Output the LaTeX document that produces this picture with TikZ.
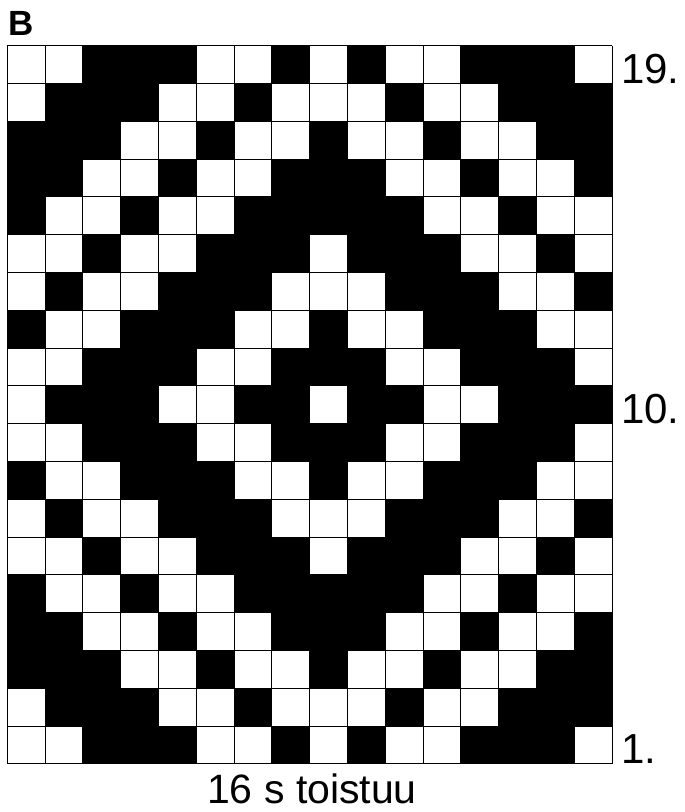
\documentclass[tikz,border=0pt]{standalone}
\usepackage{fontspec}
\setmainfont{Liberation Sans}
\begin{document}
\begin{tikzpicture}[x=1pt,y=-1pt,
  blackcell/.style={fill=black},
  gridline/.style={draw=black,line width=1.1pt},
  rowlabel/.style={anchor=base west,inner sep=0pt,font=\fontsize{42}{44}\selectfont},
  caption/.style={anchor=base,inner sep=0pt,font=\fontsize{41}{44}\selectfont},
  title/.style={anchor=base west,inner sep=0pt,font=\fontsize{35}{38}\selectfont\bfseries}]
\useasboundingbox (0,0) rectangle (685,812);
\def\gx{7.3}
\def\gy{45.7}
\def\cs{37.8}
\foreach \rowvals [count=\r from 0] in {
 {0,0,1,1,1,0,0,1,0,1,0,0,1,1,1,0},
 {0,1,1,1,0,0,1,0,0,0,1,0,0,1,1,1},
 {1,1,1,0,0,1,0,0,1,0,0,1,0,0,1,1},
 {1,1,0,0,1,0,0,1,1,1,0,0,1,0,0,1},
 {1,0,0,1,0,0,1,1,1,1,1,0,0,1,0,0},
 {0,0,1,0,0,1,1,1,0,1,1,1,0,0,1,0},
 {0,1,0,0,1,1,1,0,0,0,1,1,1,0,0,1},
 {1,0,0,1,1,1,0,0,1,0,0,1,1,1,0,0},
 {0,0,1,1,1,0,0,1,1,1,0,0,1,1,1,0},
 {0,1,1,1,0,0,1,1,0,1,1,0,0,1,1,1},
 {0,0,1,1,1,0,0,1,1,1,0,0,1,1,1,0},
 {1,0,0,1,1,1,0,0,1,0,0,1,1,1,0,0},
 {0,1,0,0,1,1,1,0,0,0,1,1,1,0,0,1},
 {0,0,1,0,0,1,1,1,0,1,1,1,0,0,1,0},
 {1,0,0,1,0,0,1,1,1,1,1,0,0,1,0,0},
 {1,1,0,0,1,0,0,1,1,1,0,0,1,0,0,1},
 {1,1,1,0,0,1,0,0,1,0,0,1,0,0,1,1},
 {0,1,1,1,0,0,1,0,0,0,1,0,0,1,1,1},
 {0,0,1,1,1,0,0,1,0,1,0,0,1,1,1,0}} {
  \foreach \v [count=\c from 0] in \rowvals {
    \ifnum\v=1
      \fill[blackcell] ({\gx+\c*\cs-0.3},{\gy+\r*\cs-0.3}) rectangle ++({\cs+0.6},{\cs+0.6});
    \fi
  }
}
\foreach \i in {0,...,16} {
  \draw[gridline] ({\gx+\i*\cs},\gy) -- ({\gx+\i*\cs},{\gy+19*\cs});
}
\foreach \j in {0,...,19} {
  \draw[gridline] (\gx,{\gy+\j*\cs}) -- ({\gx+16*\cs},{\gy+\j*\cs});
}
\node[title] (B) at (8.5,35) {B};
\node[rowlabel] (l19) at (621,{\gy+1*\cs}) {19.};
\node[rowlabel] (l10) at (621,{\gy+10*\cs}) {10.};
\node[rowlabel] (l1) at (621,{\gy+19*\cs}) {1.};
\node[caption] (cap) at (312,803) {16 s toistuu};
\end{tikzpicture}
\end{document}
